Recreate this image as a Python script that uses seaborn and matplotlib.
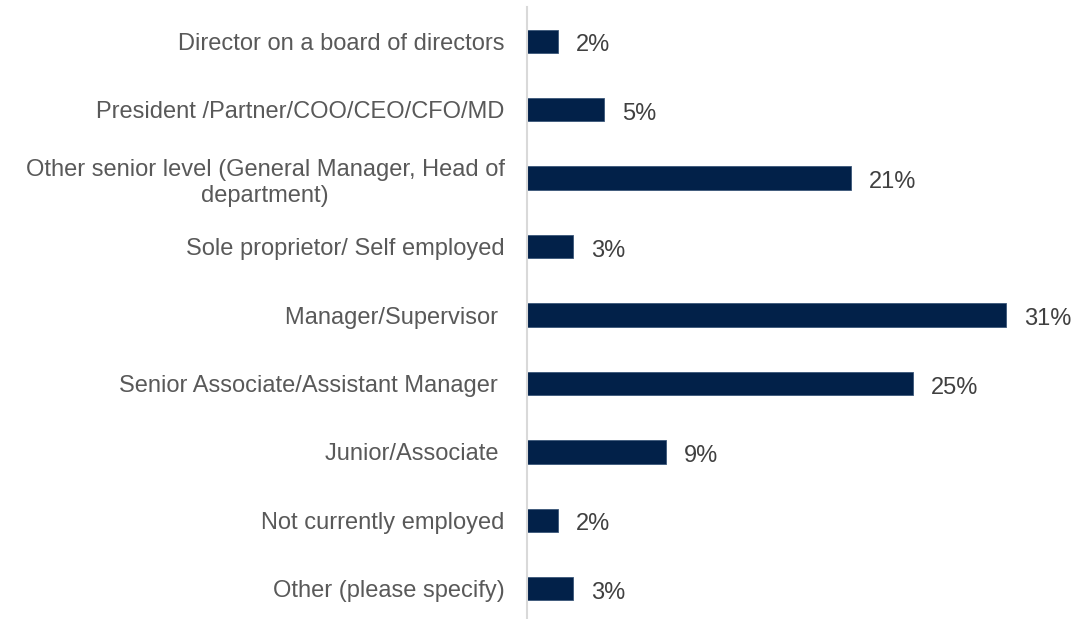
import matplotlib
matplotlib.use("Agg")
import matplotlib.pyplot as plt
import seaborn as sns
import pandas as pd

# Survey: current job level of respondents (share of respondents, %)
categories = [
    "Director on a board of directors",
    "President /Partner/COO/CEO/CFO/MD",
    "Other senior level (General Manager, Head of\ndepartment)",
    "Sole proprietor/ Self employed",
    "Manager/Supervisor ",
    "Senior Associate/Assistant Manager ",
    "Junior/Associate ",
    "Not currently employed",
    "Other (please specify)",
]
values = [2, 5, 21, 3, 31, 25, 9, 2, 3]
value_labels = [f"{v}%" for v in values]

df = pd.DataFrame({"level": categories, "share": values})

sns.set_theme(style="white")
plt.rcParams["font.family"] = ["Liberation Sans", "DejaVu Sans"]

bar_color = "#022149"
text_color = "#595959"
value_color = "#404040"

fig = plt.figure(figsize=(10.75, 6.19), dpi=100)
ax = fig.add_axes([527 / 1075, -4 / 619, 1 - 527 / 1075, 616 / 619])

sns.barplot(data=df, y="level", x="share", orient="h", color=bar_color,
            saturation=1, width=0.34, ax=ax, edgecolor="#3a5678", linewidth=0.6)

ax.set_xlim(0, 35.5)
ax.set_ylim(8.5, -0.5)
ax.set_xlabel("")
ax.set_ylabel("")
ax.set_xticks([])

for s in ["top", "right", "bottom"]:
    ax.spines[s].set_visible(False)
ax.spines["left"].set_color("#d9d9d9")
ax.spines["left"].set_linewidth(1.5)

ax.tick_params(axis="y", length=0, pad=16, labelsize=17, labelcolor=text_color)
for lab in ax.get_yticklabels():
    lab.set_multialignment("center")
    lab.set_linespacing(1.25)

for i, (v, t) in enumerate(zip(values, value_labels)):
    ax.annotate(t, xy=(v, i), xytext=(13, -3), textcoords="offset points",
                ha="left", va="center", fontsize=17, color=value_color)

fig.savefig("out.png", dpi=100, facecolor="white")
